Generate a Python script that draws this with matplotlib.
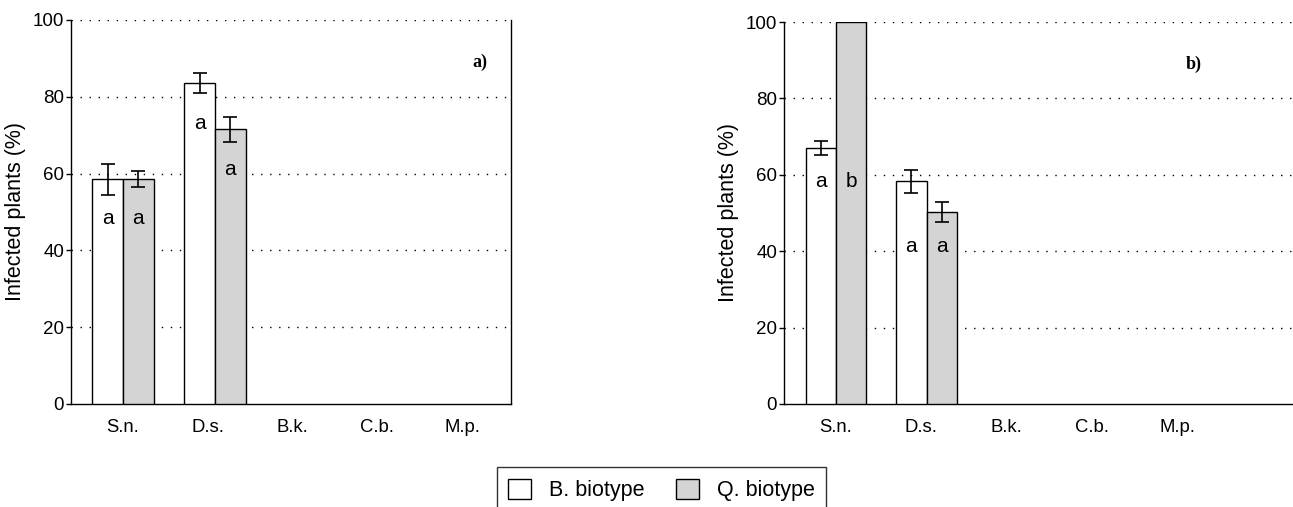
import numpy as np
import matplotlib.pyplot as plt
from matplotlib.patches import Patch

plt.rcParams['font.family'] = ['Liberation Sans', 'DejaVu Sans']

species = ['S.n.', 'D.s.', 'B.k.', 'C.b.', 'M.p.']
# panel a
a_b = [58.5, 83.6, 0, 0, 0]
a_b_err = [4.0, 2.6, 0, 0, 0]
a_q = [58.6, 71.5, 0, 0, 0]
a_q_err = [2.0, 3.3, 0, 0, 0]
a_b_let = ['a', 'a']
a_q_let = ['a', 'a']
a_b_let_y = [48.4, 73.0]
a_q_let_y = [48.4, 61.0]
# panel b
b_b = [67.0, 58.3, 0, 0, 0]
b_b_err = [1.8, 3.0, 0, 0, 0]
b_q = [100.0, 50.2, 0, 0, 0]
b_q_err = [0.0, 2.6, 0, 0, 0]
b_b_let = ['a', 'a']
b_q_let = ['b', 'a']
b_b_let_y = [58.3, 41.1]
b_q_let_y = [58.3, 41.1]

gray = '#d4d4d4'
w = 0.335

fig = plt.figure(figsize=(12.93, 5.07), dpi=100)
axa = fig.add_axes([0.0549, 0.2032, 0.3403, 0.7574])
axb = fig.add_axes([0.6063, 0.2032, 0.3937, 0.7534])


def panel(ax, bv, be, qv, qe, bl, ql, bly, qly, ticks, xlim, tag, tagx):
    x = np.arange(2)
    ax.bar(x - w / 2, bv[:2], w, color='white', edgecolor='black', lw=1, zorder=3)
    ax.bar(x + w / 2, qv[:2], w, color=gray, edgecolor='black', lw=1, zorder=3)
    ax.errorbar(x - w / 2, bv[:2], yerr=be[:2], fmt='none', ecolor='black',
                elinewidth=1.2, capsize=4.8, capthick=1.2, zorder=4)
    ax.errorbar(x + w / 2, qv[:2], yerr=qe[:2], fmt='none', ecolor='black',
                elinewidth=1.2, capsize=4.8, capthick=1.2, zorder=4)
    for i in range(2):
        ax.text(x[i] - w / 2, bly[i], bl[i], ha='center', va='center', fontsize=15, zorder=5)
        ax.text(x[i] + w / 2, qly[i], ql[i], ha='center', va='center', fontsize=15, zorder=5)
    ax.set_ylim(0, 100)
    ax.set_xlim(*xlim)
    ax.set_yticks([0, 20, 40, 60, 80, 100])
    for yv in [20, 40, 60, 80, 100]:
        ax.axhline(yv, color='black', lw=1.0, dashes=(1, 5.5), zorder=1)
    ax.set_xticks(ticks)
    ax.set_xticklabels(species)
    ax.tick_params(axis='x', length=0, pad=11, labelsize=13.3)
    ax.tick_params(axis='y', length=3.5, width=1, pad=1.5, labelsize=13.5)
    ax.set_ylabel('Infected plants (%)', fontsize=15.5, labelpad=5)
    ax.spines['top'].set_visible(False)
    for s in ['left', 'bottom', 'right']:
        ax.spines[s].set_linewidth(1)
    ax.text(tagx, 89, tag, ha='center', va='center', fontsize=13,
            fontweight='bold', family='Liberation Serif')


panel(axa, a_b, a_b_err, a_q, a_q_err, a_b_let, a_q_let, a_b_let_y, a_q_let_y,
      [0, 0.924, 1.837, 2.76, 3.685], (-0.565, 4.217), 'a)', 3.88)
panel(axb, b_b, b_b_err, b_q, b_q_err, b_b_let, b_q_let, b_b_let_y, b_q_let_y,
      [0, 0.937, 1.885, 2.822, 3.77], (-0.573, 5.04), 'b)', 3.95)
axb.spines['right'].set_visible(False)

handles = [Patch(facecolor='white', edgecolor='black', lw=1, label='B. biotype'),
           Patch(facecolor=gray, edgecolor='black', lw=1, label='Q. biotype')]
leg = fig.legend(handles=handles, loc='upper center', bbox_to_anchor=(0.5116, 0.0789),
                 ncol=2, fontsize=15.5, frameon=True, fancybox=False,
                 edgecolor='black', handlelength=1.07, handleheight=1.07,
                 columnspacing=1.5, borderpad=0.55, handletextpad=0.8,
                 borderaxespad=0)
leg.get_frame().set_linewidth(1)

fig.savefig('out.png', dpi=100)
